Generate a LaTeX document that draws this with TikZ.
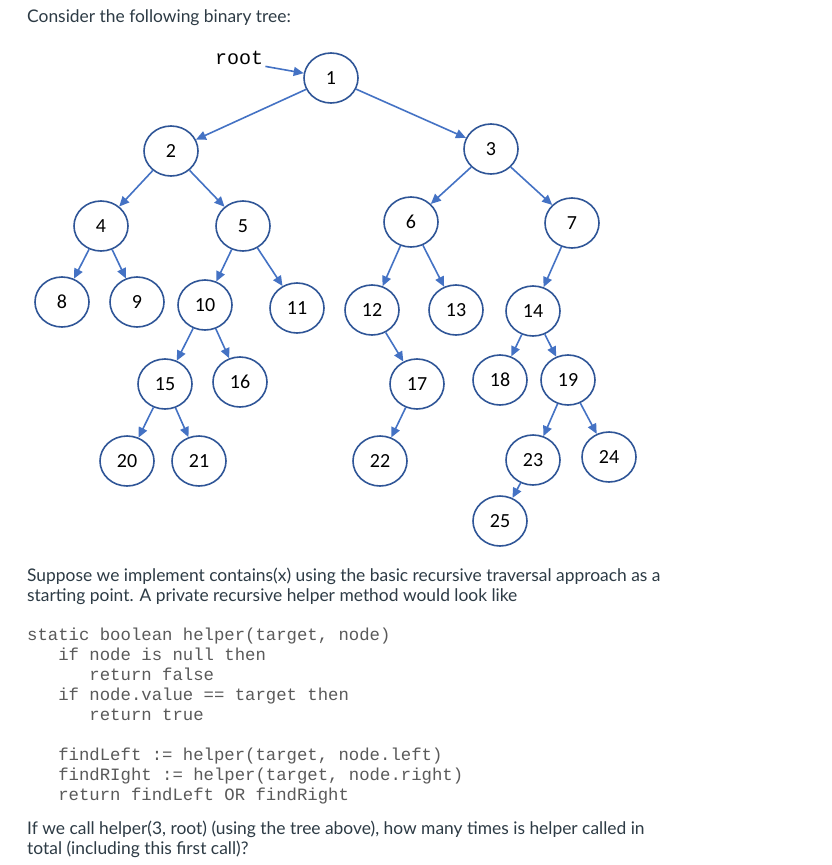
\documentclass[tikz,border=0pt]{standalone}
\usepackage{fontspec}
\setmainfont{Lato}
\setmonofont{Liberation Mono}
\newfontfamily\numfont{Carlito}
\usetikzlibrary{arrows.meta,shapes.geometric}
\definecolor{txtgray}{HTML}{2D3B45}
\definecolor{codegray}{HTML}{5A5A5A}
\definecolor{ringblue}{HTML}{2F5597}
\definecolor{edgeblue}{HTML}{4472C4}
\newcommand{\ind}{\hspace*{1.8em}}
\tikzset{
  tnode/.style  ={ellipse, draw=ringblue, line width=1.6pt, fill=white, inner sep=0pt,
                  minimum width=54pt, minimum height=50pt, font=\numfont\fontsize{20}{20}\selectfont},
  ar/.style     ={-{Triangle[length=10pt,width=9pt]}, draw=edgeblue, line width=1.6pt},
  para/.style   ={anchor=base west, inner sep=0pt, align=left, text=txtgray,
                  font=\fontsize{17.4}{20}\selectfont},
  code/.style   ={anchor=base west, inner sep=0pt, align=left, text=codegray,
                  font=\ttfamily\fontsize{17.3}{20}\selectfont},
  rootlbl/.style={anchor=base west, inner sep=2pt, font=\ttfamily\fontsize{20}{20}\selectfont},
}
\begin{document}
\begin{tikzpicture}[x=1pt, y=-1pt]
\useasboundingbox[fill=white] (0,0) rectangle (831,865);
\node[para] (intro) at (27,22) {Consider the following binary tree:};
% the tree
\node[rootlbl] (root) at (213,64) {root};
\node[tnode] (n1) at (331,78) {1};
\node[tnode] (n2) at (171,151) {2};
\node[tnode] (n3) at (491,149) {3};
\node[tnode] (n4) at (101,226) {4};
\node[tnode] (n5) at (243,226) {5};
\node[tnode] (n6) at (411,222) {6};
\node[tnode] (n7) at (572,223) {7};
\node[tnode] (n8) at (62,302) {8};
\node[tnode] (n9) at (137,302) {9};
\node[tnode] (n10) at (205,305) {10};
\node[tnode] (n11) at (297,308) {11};
\node[tnode] (n12) at (372,310) {12};
\node[tnode] (n13) at (456,310) {13};
\node[tnode] (n14) at (533,311) {14};
\node[tnode] (n15) at (165,384) {15};
\node[tnode] (n16) at (240,382) {16};
\node[tnode] (n17) at (417,384) {17};
\node[tnode] (n18) at (500,380) {18};
\node[tnode] (n19) at (568,380) {19};
\node[tnode] (n20) at (127,461) {20};
\node[tnode] (n21) at (199,461) {21};
\node[tnode] (n22) at (380,461) {22};
\node[tnode] (n23) at (533,460) {23};
\node[tnode] (n24) at (609,457) {24};
\node[tnode] (n25) at (500,521) {25};
\draw[ar] (root.south east) -- (n1);
\draw[ar] (n1) -- (n2); \draw[ar] (n1) -- (n3);
\draw[ar] (n2) -- (n4); \draw[ar] (n2) -- (n5);
\draw[ar] (n3) -- (n6); \draw[ar] (n3) -- (n7);
\draw[ar] (n4) -- (n8); \draw[ar] (n4) -- (n9);
\draw[ar] (n5) -- (n10); \draw[ar] (n5) -- (n11);
\draw[ar] (n6) -- (n12); \draw[ar] (n6) -- (n13);
\draw[ar] (n7) -- (n14);
\draw[ar] (n10) -- (n15); \draw[ar] (n10) -- (n16);
\draw[ar] (n12) -- (n17);
\draw[ar] (n14) -- (n18); \draw[ar] (n14) -- (n19);
\draw[ar] (n15) -- (n20); \draw[ar] (n15) -- (n21);
\draw[ar] (n17) -- (n22);
\draw[ar] (n19) -- (n23); \draw[ar] (n19) -- (n24);
\draw[ar] (n23) -- (n25);
% question text (base = last line)
\node[para] (setup) at (27,601) {Suppose we implement contains(x) using the basic recursive traversal approach as a\\
  starting point. A private recursive helper method would look like};
\node[code] (helper) at (27,800) {static boolean helper(target, node)\\
  \ind if node is null then\\
  \ind\ind return false\\
  \ind if node.value == target then\\
  \ind\ind return true\\
  \mbox{}\\
  \ind findLeft := helper(target, node.left)\\
  \ind findRIght := helper(target, node.right)\\
  \ind return findLeft OR findRight};
\node[para] (ask) at (27,854) {If we call helper(3, root) (using the tree above), how many times is helper called in\\
  total (including this first call)?};
\end{tikzpicture}
\end{document}
